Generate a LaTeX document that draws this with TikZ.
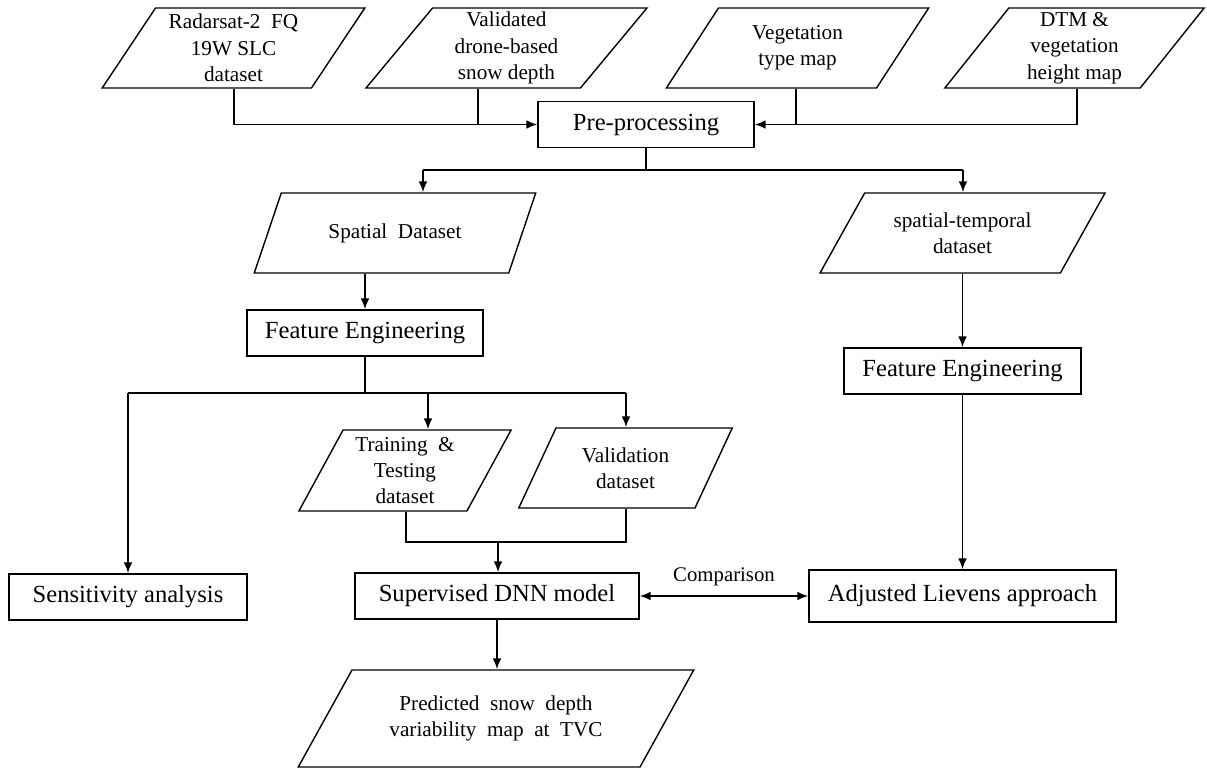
\documentclass[tikz,border=0pt]{standalone}
\usepackage{fontspec}
\setmainfont{Liberation Serif}
\usetikzlibrary{arrows.meta,shapes.geometric}

\begin{document}
\begin{tikzpicture}[
    x=0.5pt, y=-0.5pt,
    data/.style={trapezium, trapezium stretches=true, draw, line width=0.7pt, align=center, inner sep=1pt, font=\fontsize{10.6}{13.2}\selectfont, minimum height=40pt},
    stepbox/.style={rectangle, draw, line width=0.7pt, align=center, inner sep=2pt, minimum height=23pt, font=\fontsize{12.3}{15}\selectfont},
    line/.style={line width=0.9pt},
    arrow/.style={line, -{Latex[length=5.5pt,width=4.4pt]}},
    biarrow/.style={line, {Latex[length=5.5pt,width=4.4pt]}-{Latex[length=5.5pt,width=4.4pt]}}
]
\useasboundingbox (0,0) rectangle (1207,768);

% Input data
\node[data, trapezium left angle=57.5, trapezium right angle=122.5, minimum width=131.5pt] (radarsat) at (233.5,48) {Radarsat-2\ \ FQ\\19W SLC\\dataset};
\node[data, trapezium left angle=57.5, trapezium right angle=122.5, minimum width=140.5pt] (validated) at (506.5,48) {Validated\\drone-based\\snow depth};
\node[data, trapezium left angle=57.5, trapezium right angle=122.5, minimum width=131.5pt] (vegtype) at (797.5,48) {Vegetation\\type map};
\node[data, trapezium left angle=57.5, trapezium right angle=122.5, minimum width=130.5pt] (dtm) at (1074.5,48) {DTM \&\\vegetation\\height map};

% Pre-processing
\node[stepbox, minimum width=108pt] (preproc) at (646,124.5) {Pre-processing};

% Datasets
\node[data, trapezium left angle=55, trapezium right angle=125, minimum width=142pt] (spatial) at (395,233) {Spatial\ \ Dataset};
\node[data, trapezium left angle=54.5, trapezium right angle=125.5, minimum width=142.5pt] (spatiotemp) at (962.5,233) {spatial-temporal\\dataset};

% Feature engineering
\node[stepbox, minimum width=118pt] (feleft) at (365,333) {Feature Engineering};
\node[stepbox, minimum width=118.5pt] (feright) at (962.5,371) {Feature Engineering};

% Split datasets
\node[data, trapezium left angle=62.6, trapezium right angle=117.4, minimum width=107pt, minimum height=40.5pt] (training) at (405,470.5) {Training\ \ \&\\Testing\\dataset};
\node[data, trapezium left angle=61.7, trapezium right angle=118.3, minimum width=107.5pt] (validation) at (625.5,468) {Validation\\dataset};

% Models and analysis
\node[stepbox, minimum width=119pt] (sensitivity) at (128,597) {Sensitivity analysis};
\node[stepbox, minimum width=142pt] (dnn) at (497,596) {Supervised DNN model};
\node[stepbox, minimum width=153.5pt, minimum height=26pt] (lievens) at (962.5,596) {Adjusted Lievens approach};

% Output
\node[data, trapezium left angle=50.8, trapezium right angle=129.2, minimum width=198pt, minimum height=48.5pt] (predicted) at (496,718.5) {Predicted\ \ snow\ \ depth\\variability\ \ map\ \ at\ \ TVC};

% Inputs to pre-processing
\coordinate (in1) at (234,124.5);
\coordinate (in2) at (478,124.5);
\coordinate (in3) at (796,124.5);
\coordinate (in4) at (1077,124.5);
\draw[arrow] (radarsat.south -| in1) |- (preproc.west);
\draw[line] (validated.south -| in2) -- (in2);
\draw[arrow] (dtm.south -| in4) |- (preproc.east);
\draw[line] (vegtype.south -| in3) -- (in3);

% Pre-processing split
\coordinate (s1) at (423,170);
\coordinate (s2) at (963,170);
\draw[line] (preproc.south) -- (preproc.south |- s1);
\draw[line] (s1) -- (s2);
\draw[arrow] (s1) -- (spatial.north -| s1);
\draw[arrow] (s2) -- (spatiotemp.north -| s2);

% Feature engineering flow
\draw[arrow] (spatial.south -| feleft.north) -- (feleft.north);
\draw[arrow] (spatiotemp.south -| feright.north) -- (feright.north);
\draw[arrow] (feright) -- (lievens);

% Left branch split
\coordinate (b1) at (128,393);
\coordinate (b2) at (428,393);
\coordinate (b3) at (626,393);
\draw[line] (feleft.south) -- (feleft.south |- b1);
\draw[line] (b1) -- (b3);
\draw[arrow] (b1) -- (sensitivity.north);
\draw[arrow] (b2) -- (training.north -| b2);
\draw[arrow] (b3) -- (validation.north -| b3);

% Merge into model
\coordinate (m1) at (406,542);
\coordinate (m0) at (498,542);
\coordinate (m2) at (626,542);
\draw[line] (training.south -| m1) -- (m1) -- (m2) -- (validation.south -| m2);
\draw[arrow] (m0) -- (dnn.north -| m0);

% Model output and comparison
\draw[arrow] (dnn.south) -- (dnn.south |- predicted.north);
\draw[biarrow] (dnn.east) -- node[above, yshift=1.5pt, font=\fontsize{10.4}{12}\selectfont] {Comparison} (lievens.west);

\end{tikzpicture}
\end{document}
